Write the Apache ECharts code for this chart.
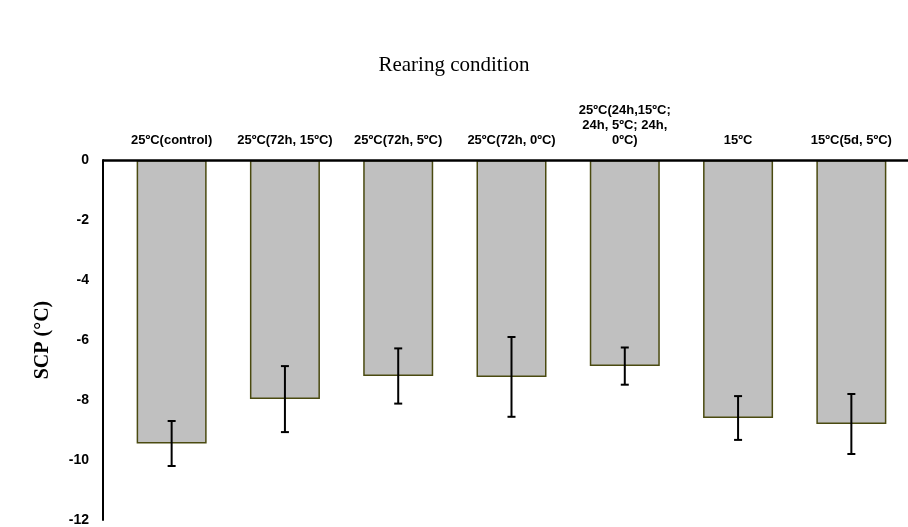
<!DOCTYPE html>
<html><head><meta charset="utf-8">
<script src="https://cdn.jsdelivr.net/npm/echarts@6/dist/echarts.min.js"></script>
<style>html,body{margin:0;background:#fff}</style>
</head><body>
<div id="c" style="width:908px;height:527px"></div>
<script>
var categories = ['25ºC(control)', '25ºC(72h, 15ºC)', '25ºC(72h, 5ºC)', '25ºC(72h, 0ºC)', '25ºC(24h,15ºC;\n24h, 5ºC; 24h,\n0ºC)', '15ºC', '15ºC(5d, 5ºC)'];
var means = [-9.45, -7.97, -7.2, -7.23, -6.87, -8.6, -8.8];
var errs = [0.75, 1.1, 0.92, 1.33, 0.62, 0.73, 1.0];

var chart = echarts.init(document.getElementById('c'));
chart.setOption({
  animation: false,
  title: { text: 'Rearing condition', left: 'center', top: 50,
    textStyle: { fontFamily: 'Liberation Serif', fontSize: 21, fontWeight: 'normal', color: '#000' } },
  grid: { left: 115, right: -4, top: 160, bottom: 7 },
  xAxis: {
    type: 'category', data: categories, position: 'top',
    axisLine: { show: false }, axisTick: { show: false },
    axisLabel: { interval: 0, fontFamily: 'Liberation Sans', fontWeight: 'bold', fontSize: 13,
      color: '#000', lineHeight: 15, margin: 12, letterSpacing: -1.2 }
  },
  yAxis: {
    type: 'value', min: -12, max: 0, interval: 2, offset: 12,
    name: 'SCP (°C)', nameLocation: 'middle', nameGap: 50, nameRotate: 90,
    nameTextStyle: { fontFamily: 'Liberation Serif', fontWeight: 'bold', fontSize: 20, color: '#000' },
    axisLine: { show: true, lineStyle: { color: '#000', width: 2 } },
    axisTick: { show: false }, splitLine: { show: false },
    axisLabel: { fontFamily: 'Liberation Sans', fontWeight: 'bold', fontSize: 14, color: '#000', margin: 14 }
  },
  series: [{
    type: 'bar', data: means, barWidth: 70,
    itemStyle: { color: '#c0c0c0', borderColor: '#4a4a10', borderWidth: 1.5 }
  }, {
    type: 'custom',
    data: means.map(function (m, i) { return [i, m - errs[i], m + errs[i]]; }),
    renderItem: function (params, api) {
      var lo = api.coord([api.value(0), api.value(1)]);
      var hi = api.coord([api.value(0), api.value(2)]);
      var w = 4, s = { stroke: '#000', lineWidth: 2 };
      return { type: 'group', children: [
        { type: 'line', shape: { x1: lo[0], y1: lo[1], x2: hi[0], y2: hi[1] }, style: s },
        { type: 'line', shape: { x1: lo[0] - w, y1: lo[1], x2: lo[0] + w, y2: lo[1] }, style: s },
        { type: 'line', shape: { x1: hi[0] - w, y1: hi[1], x2: hi[0] + w, y2: hi[1] }, style: s }
      ] };
    },
    z: 5
  }, {
    type: 'line', data: [], markLine: { silent: true, symbol: 'none', label: { show: false },
      lineStyle: { color: '#000', width: 2.5, type: 'solid' },
      data: [[{ coord: [0, 0], x: 103 }, { coord: [6, 0], x: 908 }]] }
  }]
});
</script>
</body></html>
